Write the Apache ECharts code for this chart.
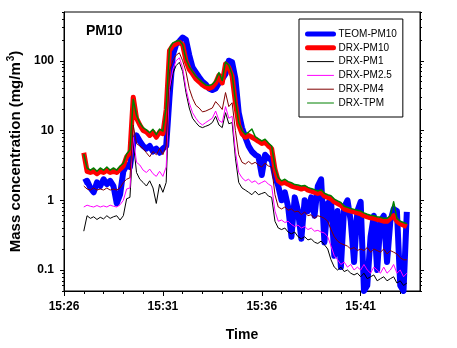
<!DOCTYPE html>
<html><head><meta charset="utf-8">
<script src="https://cdn.jsdelivr.net/npm/echarts@6/dist/echarts.min.js"></script>
<style>html,body{margin:0;padding:0;background:#fff}#c{width:457px;height:348px}</style>
</head><body><div id="c"></div>
<script>
const times = [
'15:27:00','15:27:10','15:27:20','15:27:30','15:27:40','15:27:50',
'15:28:00','15:28:10','15:28:20','15:28:30','15:28:40','15:28:50',
'15:29:00','15:29:10','15:29:20','15:29:30','15:29:40','15:29:50',
'15:30:00','15:30:10','15:30:20','15:30:30','15:30:40','15:30:50',
'15:31:00','15:31:10','15:31:20','15:31:30','15:31:40','15:31:50',
'15:32:00','15:32:10','15:32:20','15:32:30','15:32:40','15:32:50',
'15:33:00','15:33:10','15:33:20','15:33:30','15:33:40','15:33:50',
'15:34:00','15:34:10','15:34:20','15:34:30','15:34:40','15:34:50',
'15:35:00','15:35:10','15:35:20','15:35:30','15:35:40','15:35:50',
'15:36:00','15:36:10','15:36:20','15:36:30','15:36:40','15:36:50',
'15:37:00','15:37:10','15:37:20','15:37:30','15:37:40','15:37:50',
'15:38:00','15:38:10','15:38:20','15:38:30','15:38:40','15:38:50',
'15:39:00','15:39:10','15:39:20','15:39:30','15:39:40','15:39:50',
'15:40:00','15:40:10','15:40:20','15:40:30','15:40:40','15:40:50',
'15:41:00','15:41:10','15:41:20','15:41:30','15:41:40','15:41:50',
'15:42:00','15:42:10','15:42:20','15:42:30','15:42:40','15:42:50',
'15:43:00','15:43:10','15:43:20'];

const teomPM10 = [1.8,1.9,1.5,1.3,1.8,1.6,2.0,1.7,1.9,1.6,
 0.9,1.2,2.6,3.2,3.0,6.5,8.5,7,6,5.5,
 6,5,5.5,4.8,5.5,6,30,120,170,190,
 215,200,120,80,68,58,50,46,40,38,
 40,48,55,65,100,95,55,18,11,8,
 6,5,4.5,4.2,2.3,4.5,4,3.8,2.2,1.6,
 1.0,1.3,0.8,0.3,1.1,0.7,0.28,1.0,0.7,1.1,
 0.6,1.6,2.0,0.25,0.9,1.0,0.16,0.7,0.11,0.8,
 1.0,0.5,0.13,0.7,0.95,0.05,0.06,0.3,0.6,0.1,
 0.5,0.6,0.13,0.5,0.75,0.7,0.06,0.05,0.68];

const drxPM10 = [4.8,2.6,2.5,2.6,2.4,2.6,2.5,2.7,2.5,2.6,
 2.5,2.8,3.1,4.2,4.8,30,15,12,10,9.5,
 8.5,9.5,8,9.5,9,20,140,165,175,185,
 170,100,75,65,55,50,45,42,40,42,
 48,62,48,90,80,60,25,12,9,8,
 8.5,8,7.5,7,6.5,6.8,6,5.5,2.8,1.9,
 1.75,1.8,1.7,1.6,1.55,1.5,1.45,1.5,1.4,1.35,
 1.3,1.25,1.3,1.15,1.1,1.05,0.95,0.9,0.85,0.75,
 0.72,0.7,0.68,0.66,0.64,0.6,0.58,0.56,0.55,0.53,
 0.52,0.5,0.5,0.55,0.6,0.5,0.46,0.44,0.42];

const drxPM1 = [0.36,0.6,0.55,0.58,0.53,0.57,0.54,0.6,0.55,0.58,
 0.6,0.52,0.6,1.05,1.1,7,2.5,2.0,1.8,1.6,
 1.9,1.5,0.9,1.7,1.3,1.8,35,65,85,95,
 70,35,21,15,13,11.5,11,11.5,12,13,
 16,12,11,18,12.5,13,4,1.8,1.5,1.4,
 1.3,1.2,1.35,1.2,1.25,1.3,1.15,1.1,0.5,0.4,
 0.38,0.4,0.35,0.33,0.35,0.3,0.28,0.3,0.27,0.28,
 0.25,0.24,0.26,0.23,0.2,0.14,0.11,0.1,0.11,0.095,
 0.1,0.09,0.085,0.09,0.08,0.09,0.075,0.08,0.085,0.07,
 0.075,0.08,0.07,0.075,0.08,0.065,0.07,0.06,0.065];

const drxPM25 = [0.8,0.85,0.82,0.8,0.84,0.8,0.83,0.8,0.85,0.82,
 0.8,0.86,1.0,1.45,1.5,8,3.5,3.2,2.7,2.5,
 2.8,2.4,2.2,2.6,2.2,3,40,75,100,110,
 80,40,25,18,15,13,12,13,14,15,
 19,14,13,22,15,16,5,2.5,2.1,1.9,
 2.0,1.8,1.9,1.7,1.8,1.9,1.7,1.6,0.7,0.5,
 0.52,0.48,0.5,0.45,0.42,0.44,0.4,0.42,0.38,0.4,
 0.36,0.37,0.35,0.34,0.3,0.22,0.16,0.14,0.12,0.13,
 0.11,0.12,0.1,0.11,0.1,0.12,0.1,0.09,0.11,0.1,
 0.09,0.11,0.09,0.1,0.12,0.09,0.1,0.08,0.09];

const drxPM4 = [1.6,1.45,1.4,1.5,1.4,1.45,1.4,1.5,1.4,1.45,
 1.4,1.5,1.8,2.0,2.1,12,6.5,6,5.5,4.8,
 4.2,5,4.5,5.5,4.5,6,70,100,120,130,
 100,70,40,29,23,21,18.5,19,20,21,
 26,23,20,35,22,25,10,4.5,3.5,3.3,
 3.6,3.3,3.5,3.2,3.0,3.4,3.1,3.0,1.2,0.8,
 0.75,0.8,0.72,0.75,0.68,0.7,0.62,0.68,0.6,0.62,
 0.55,0.6,0.58,0.55,0.5,0.38,0.3,0.26,0.24,0.23,
 0.22,0.2,0.21,0.19,0.2,0.19,0.21,0.18,0.2,0.19,
 0.18,0.2,0.17,0.19,0.18,0.17,0.15,0.14,0.14];

const drxTPM = [4.6,2.9,2.7,2.9,2.6,2.9,2.7,3.0,2.7,2.9,
 2.7,3.1,3.4,4.6,5.3,28,16.5,12.8,11,10.2,
 9.3,10.4,8.7,10.5,9.8,22,150,180,190,195,
 170,105,82,70,60,54,49,45,44,46,
 52,68,52,96,86,64,27,13,10,8.8,
 9.5,10.5,8.2,7.6,7.1,7.5,6.6,6.0,3.0,2.1,
 1.9,2.0,1.85,1.78,1.68,1.65,1.6,1.63,1.53,1.47,
 1.42,1.36,1.42,1.26,1.2,1.16,1.04,0.98,0.93,0.82,
 0.79,0.76,0.74,0.72,0.7,0.66,0.63,0.61,0.6,0.58,
 0.57,0.55,0.55,0.6,0.95,0.55,0.5,0.48,0.46];

const seriesNames = ['TEOM-PM10','DRX-PM10','DRX-PM1','DRX-PM2.5','DRX-PM4','DRX-TPM'];
const xTickLabels = ['15:26','15:31','15:36','15:41'];
const xMinorTickLabels = ['15:27','15:28','15:29','15:30','15:32','15:33','15:34','15:35',
  '15:37','15:38','15:39','15:40','15:42','15:43'];
const xStart = '15:26', xEnd = '15:44';
const yMajorTicks = [0.1, 1, 10, 100];
const yMinorTicks = [0.05,0.06,0.07,0.08,0.09,0.2,0.3,0.4,0.5,0.6,0.7,0.8,0.9,
  2,3,4,5,6,7,8,9,20,30,40,50,60,70,80,90,200,300,400,500];
const yMin = 0.05, yMax = 500;

function toMin(t){const p=t.split(':').map(Number);return (p[0]-15)*60+(p[1]-26)+(p[2]||0)/60;}
function fmt(v){const tot=Math.round(v)+26;const h=15+Math.floor(tot/60);const m=tot%60;return h+':'+(m<10?'0':'')+m;}

const F = 'Liberation Sans, Arial, sans-serif';
const colors = ['#0000ff','#ff0000','#000000','#ff00ff','#800000','#008000'];
const widths = [6,5,1,1,1,1.5];
const legendWidths = [5,5,1,1,1,1];
const dataSets = [teomPM10, drxPM10, drxPM1, drxPM25, drxPM4, drxTPM];

const xMin = toMin(xStart+':00'), xMax = toMin(xEnd+':00');
const xMajor = xTickLabels.map(s=>toMin(s+':00'));
const xMinor = xMinorTickLabels.map(s=>toMin(s+':00'));

const common = {min:xMin,max:xMax,type:'value',gridIndex:0};
const chart = echarts.init(document.getElementById('c'), null, {renderer:'canvas'});
chart.setOption({
  animation:false,
  backgroundColor:'#fff',
  title:{text:'PM10', left:86, top:24, padding:0,
    textStyle:{fontFamily:F, fontWeight:'bold', fontSize:14, color:'#000'}},
  grid:{left:64, right:37, top:12, bottom:57, show:true, borderColor:'#000', borderWidth:1,
    backgroundColor:'transparent', outerBoundsMode:'none'},
  legend:{orient:'vertical', left:299, top:19, padding:[9,6,8,6], itemWidth:26, itemHeight:12,
    itemGap:1.8, borderColor:'#000', borderWidth:1, backgroundColor:'#fff', borderRadius:0,
    textStyle:{fontFamily:F, fontSize:10, color:'#000', lineHeight:12},
    itemStyle:{opacity:0},
    data: seriesNames.map((n,i)=>({name:n, itemStyle:{opacity:0},
      lineStyle:{width: legendWidths[i], cap:'round', color:colors[i]}}))},
  xAxis:[
    Object.assign({}, common, {
      position:'bottom',
      axisLine:{show:true, lineStyle:{color:'#000', width:1}},
      axisTick:{show:true, length:5, customValues:xMajor, lineStyle:{color:'#000'}},
      axisLabel:{customValues:xMajor, margin:10, formatter:v=>fmt(v),
        fontFamily:F, fontWeight:'bold', fontSize:12, color:'#000'},
      splitLine:{show:false},
      name:'Time', nameLocation:'middle', nameGap:37,
      nameTextStyle:{fontFamily:F, fontWeight:'bold', fontSize:14, color:'#000'}
    }),
    Object.assign({}, common, {
      position:'bottom',
      axisLine:{show:false},
      axisTick:{show:true, length:3, customValues:xMinor, lineStyle:{color:'#000'}},
      axisLabel:{show:false}, splitLine:{show:false}
    })
  ],
  yAxis:[
    {type:'log', logBase:10, min:yMin, max:yMax, position:'left',
     axisLine:{show:true, lineStyle:{color:'#000'}},
     axisTick:{show:true, length:4, customValues:yMajorTicks, lineStyle:{color:'#000'}},
     axisLabel:{customValues:yMajorTicks, margin:10, formatter:v=>String(v),
       fontFamily:F, fontWeight:'bold', fontSize:12, color:'#000'},
     splitLine:{show:false},
     name:'{a|Mass concentration (mg/m}{b|3}{a|)}', nameLocation:'middle', nameGap:36,
     nameTextStyle:{color:'#000', rich:{
       a:{fontFamily:F, fontWeight:'bold', fontSize:15, color:'#000', lineHeight:18},
       b:{fontFamily:F, fontWeight:'bold', fontSize:10, color:'#000', verticalAlign:'top', lineHeight:18, padding:[0,0,6,1]}}}},
    {type:'log', logBase:10, min:yMin, max:yMax, position:'left',
     axisLine:{show:false},
     axisTick:{show:true, length:2, customValues:yMinorTicks, lineStyle:{color:'#000'}},
     axisLabel:{show:false}, splitLine:{show:false}},
    {type:'log', logBase:10, min:yMin, max:yMax, position:'right',
     axisLine:{show:true, lineStyle:{color:'#000'}},
     axisTick:{show:true, length:4, customValues:yMajorTicks, lineStyle:{color:'#000'}},
     axisLabel:{show:false}, splitLine:{show:false}},
    {type:'log', logBase:10, min:yMin, max:yMax, position:'right',
     axisLine:{show:false},
     axisTick:{show:true, length:2, customValues:yMinorTicks, lineStyle:{color:'#000'}},
     axisLabel:{show:false}, splitLine:{show:false}}
  ],
  series: seriesNames.map((n,i)=>({
    name:n, type:'line', xAxisIndex:0, yAxisIndex:0,
    symbol:'none', showSymbol:false, clip:true,
    lineStyle:{color:colors[i], width:widths[i], join:'round'},
    itemStyle:{color:colors[i]},
    data: times.map((t,k)=>[toMin(t), dataSets[i][k]])
  }))
});
</script></body></html>
